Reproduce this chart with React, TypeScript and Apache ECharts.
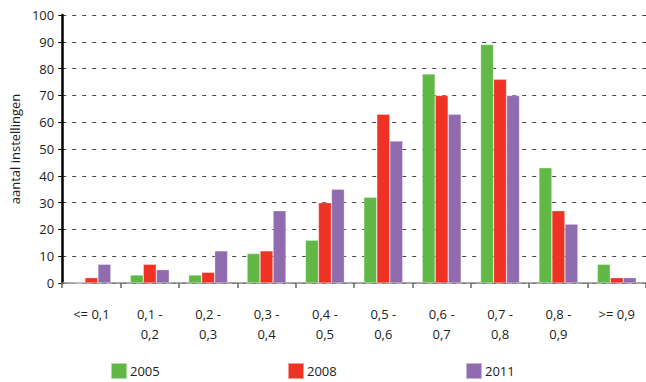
import React, { useEffect, useRef } from "react";
import * as echarts from "echarts";

const categories = ["<= 0,1", "0,1 -\n0,2", "0,2 -\n0,3", "0,3 -\n0,4", "0,4 -\n0,5", "0,5 -\n0,6", "0,6 -\n0,7", "0,7 -\n0,8", "0,8 -\n0,9", ">= 0,9"];
const seriesNames = ["2005", "2008", "2011"];
const values2005 = [0, 3, 3, 11, 16, 32, 78, 89, 43, 7];
const values2008 = [2, 7, 4, 12, 30, 63, 70, 76, 27, 2];
const values2011 = [7, 5, 12, 27, 35, 53, 63, 70, 22, 2];
const colors = ["#62b846", "#ee3224", "#906bae"];

const FONT = "Open Sans";

export default function App() {
  const ref = useRef<HTMLDivElement>(null);
  useEffect(() => {
    if (!ref.current) return;
    const chart = echarts.init(ref.current, undefined, { renderer: "svg" });
    const data = [values2005, values2008, values2011];
    const legendLefts = [110, 287, 465];
    chart.setOption({
      animation: false,
      textStyle: { fontFamily: FONT },
      grid: { left: 52, right: 0, top: 15, bottom: 99 },
      legend: seriesNames.map((n, i) => ({
        data: [n],
        left: legendLefts[i],
        top: 362,
        itemWidth: 16,
        itemHeight: 16,
        itemGap: 0,
        icon: "rect",
        textStyle: { fontFamily: FONT, fontSize: 13, color: "#222", lineHeight: 14, padding: [0, 0, 0, -2] },
        padding: 0,
      })),
      xAxis: {
        type: "category",
        data: categories,
        axisLine: { lineStyle: { color: "#8a8a8a", width: 1.5 } },
        axisTick: { show: true, length: 5, lineStyle: { color: "#666", width: 1.5 } },
        axisLabel: { fontFamily: FONT, fontSize: 13, color: "#222", margin: 21, lineHeight: 20, interval: 0 },
      },
      yAxis: {
        type: "value",
        min: 0,
        max: 100,
        interval: 10,
        name: "aantal instellingen",
        nameLocation: "middle",
        nameRotate: 90,
        nameGap: 39,
        nameTextStyle: { fontFamily: FONT, fontSize: 13, color: "#222" },
        axisLine: { show: true, lineStyle: { color: "#000", width: 2.5 } },
        axisTick: { show: true, length: 4, lineStyle: { color: "#000", width: 1 } },
        axisLabel: { fontFamily: FONT, fontSize: 13, color: "#222", margin: 8 },
        splitLine: { show: true, lineStyle: { color: "#444", type: [4, 6], width: 1.2 } },
      },
      series: seriesNames.map((n, i) => ({
        name: n,
        type: "bar",
        data: data[i],
        barWidth: 13,
        barGap: "0%",
        itemStyle: { color: colors[i], borderColor: "rgba(255,255,255,0.5)", borderWidth: 0.6 },
      })),
    });
    return () => chart.dispose();
  }, []);
  return <div ref={ref} style={{ width: 646, height: 382, position: "absolute", left: 0, top: 0 }} />;
}
